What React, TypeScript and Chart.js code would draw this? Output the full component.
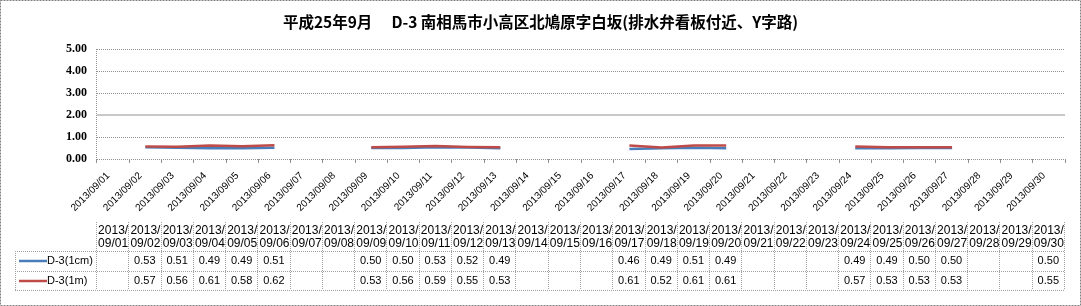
import React, { useEffect, useRef } from "react";
import { Chart, registerables } from "chart.js";

Chart.register(...registerables);

const TITLE = "平成25年9月　 D-3 南相馬市小高区北鳩原字白坂(排水弁看板付近、Y字路)";

const DATES: string[] = [
  "2013/09/01", "2013/09/02", "2013/09/03", "2013/09/04", "2013/09/05", "2013/09/06",
  "2013/09/07", "2013/09/08", "2013/09/09", "2013/09/10", "2013/09/11", "2013/09/12",
  "2013/09/13", "2013/09/14", "2013/09/15", "2013/09/16", "2013/09/17", "2013/09/18",
  "2013/09/19", "2013/09/20", "2013/09/21", "2013/09/22", "2013/09/23", "2013/09/24",
  "2013/09/25", "2013/09/26", "2013/09/27", "2013/09/28", "2013/09/29", "2013/09/30",
];

const SERIES_1CM_NAME = "D-3(1cm)";
const SERIES_1M_NAME = "D-3(1m)";

const D3_1CM: (number | null)[] = [
  null, 0.53, 0.51, 0.49, 0.49, 0.51, null, null, 0.50, 0.50, 0.53, 0.52, 0.49, null, null,
  null, 0.46, 0.49, 0.51, 0.49, null, null, null, 0.49, 0.49, 0.50, 0.50, null, null, 0.50,
];

const D3_1M: (number | null)[] = [
  null, 0.57, 0.56, 0.61, 0.58, 0.62, null, null, 0.53, 0.56, 0.59, 0.55, 0.53, null, null,
  null, 0.61, 0.52, 0.61, 0.61, null, null, null, 0.57, 0.53, 0.53, 0.53, null, null, 0.55,
];

const Y_MIN = 0;
const Y_MAX = 5;
const Y_STEP = 1;

const BLUE = "#4a7ebb";
const RED = "#be4b48";

const W = 1081;
const H = 306;

export default function App() {
  const canvasRef = useRef<HTMLCanvasElement | null>(null);

  useEffect(() => {
    const canvas = canvasRef.current;
    if (!canvas) return;

    const framePlugin = {
      id: "frame",
      beforeDraw(chart: any) {
        const ctx = chart.ctx;
        ctx.save();
        ctx.fillStyle = "#ffffff";
        ctx.fillRect(0, 0, W, H);
        ctx.restore();
      },
      beforeDatasetsDraw(chart: any) {
        const ctx = chart.ctx;
        const a = chart.chartArea;
        ctx.save();
        ctx.strokeStyle = "#909090";
        ctx.lineWidth = 1;
        ctx.setLineDash([1, 1]);
        ctx.beginPath();
        ctx.moveTo(Math.round(a.left) - 0.5, a.top);
        ctx.lineTo(Math.round(a.left) - 0.5, a.bottom);
        ctx.stroke();
        ctx.restore();
      },
      afterDraw(chart: any) {
        const ctx = chart.ctx;
        const xs = chart.scales.x;
        ctx.save();
        // outer border
        ctx.strokeStyle = "#808080";
        ctx.lineWidth = 1;
        ctx.setLineDash([2, 1]);
        ctx.strokeRect(0.5, 0.5, W - 1, H - 1);

        // title
        ctx.setLineDash([]);
        ctx.fillStyle = "#000";
        ctx.font = "bold 15.5px 'Noto Sans CJK JP'";
        ctx.textAlign = "center";
        ctx.textBaseline = "middle";
        ctx.fillText(TITLE, W / 2, 22);

        // data table
        const n = DATES.length;
        const colW = xs.width / n;
        const headTop = 222;
        const row1Top = 251;
        const row2Top = 271;
        const bottom = 290;
        const legLeft = 15;
        const left = xs.left;
        const right = xs.right;

        ctx.strokeStyle = "#a0a0a0";
        ctx.setLineDash([1, 1]);
        ctx.lineWidth = 1;
        ctx.beginPath();
        for (const y of [row1Top, row2Top, bottom]) {
          ctx.moveTo(legLeft, y + 0.5);
          ctx.lineTo(right, y + 0.5);
        }
        for (let i = 0; i <= n; i++) {
          const x = Math.round(left + i * colW) - 0.5;
          ctx.moveTo(x, headTop);
          ctx.lineTo(x, bottom);
        }
        ctx.moveTo(legLeft + 0.5, row1Top);
        ctx.lineTo(legLeft + 0.5, bottom);
        ctx.stroke();

        // header text
        ctx.setLineDash([]);
        ctx.fillStyle = "#000";
        ctx.font = "12px 'Liberation Sans'";
        ctx.textAlign = "center";
        ctx.textBaseline = "middle";
        for (let i = 0; i < n; i++) {
          const cx = xs.getPixelForValue(i);
          const parts = DATES[i].split("/");
          ctx.fillText(parts[0] + "/", cx, 231);
          ctx.fillText(parts[1] + "/" + parts[2], cx, 244);
        }

        // values
        ctx.font = "11px 'Liberation Sans'";
        ctx.textAlign = "right";
        const rows: { name: string; color: string; data: (number | null)[]; top: number }[] = [
          { name: SERIES_1CM_NAME, color: BLUE, data: D3_1CM, top: row1Top },
          { name: SERIES_1M_NAME, color: RED, data: D3_1M, top: row2Top },
        ];
        for (const r of rows) {
          const cy = r.top + 10;
          for (let i = 0; i < n; i++) {
            const v = r.data[i];
            if (v === null) continue;
            const rx = left + (i + 1) * colW - 6;
            ctx.fillText(v.toFixed(2), rx, cy);
          }
          ctx.strokeStyle = r.color;
          ctx.lineWidth = 2.5;
          ctx.beginPath();
          ctx.moveTo(19, cy);
          ctx.lineTo(47, cy);
          ctx.stroke();
          ctx.textAlign = "left";
          ctx.fillText(r.name, 47, cy);
          ctx.textAlign = "right";
        }
        ctx.restore();
      },
    };

    const chart = new Chart(canvas, {
      type: "line",
      data: {
        labels: DATES,
        datasets: [
          {
            label: SERIES_1CM_NAME,
            data: D3_1CM,
            borderColor: BLUE,
            backgroundColor: BLUE,
            borderWidth: 2.5,
            pointRadius: 0,
            tension: 0,
            spanGaps: false,
            order: 1,
          },
          {
            label: SERIES_1M_NAME,
            data: D3_1M,
            borderColor: RED,
            backgroundColor: RED,
            borderWidth: 2.5,
            pointRadius: 0,
            tension: 0,
            spanGaps: false,
            order: 0,
          },
        ],
      },
      options: {
        responsive: false,
        animation: false,
        layout: { padding: { top: 49, right: 16, left: 0, bottom: 0 } },
        plugins: {
          legend: { display: false },
          title: { display: false },
          tooltip: { enabled: false },
        },
        scales: {
          x: {
            type: "category",
            offset: true,
            grid: {
              offset: true,
              drawOnChartArea: false,
              drawTicks: true,
              tickLength: 4,
              color: "#909090",
            },
            border: { display: false },
            ticks: {
              autoSkip: false,
              minRotation: 45,
              maxRotation: 45,
              padding: 7,
              labelOffset: -5,
              color: "#000",
              font: { family: "'Liberation Sans'", size: 10 },
            },
            afterFit(scale: any) {
              scale.height = H - 159;
            },
          },
          y: {
            min: Y_MIN,
            max: Y_MAX,
            ticks: {
              stepSize: Y_STEP,
              padding: 10,
              color: "#000",
              font: { family: "'Liberation Serif'", size: 12, weight: "bold" },
              callback: (v: any) => Number(v).toFixed(2),
            },
            grid: {
              drawTicks: false,
              color: (c: any) => (c.tick && c.tick.value === 2 ? "#c8c8c8" : "#909090"),
              lineWidth: (c: any) => (c.tick && c.tick.value === 2 ? 2 : 1),
            },
            border: {
              display: false,
              dash: (c: any) => (c.tick && c.tick.value === 2 ? [] : [1, 1]),
            },
            afterFit(scale: any) {
              scale.width = 97;
            },
          },
        },
      },
      plugins: [framePlugin],
    } as any);

    return () => chart.destroy();
  }, []);

  return (
    <div style={{ position: "fixed", left: 0, top: 0 }}>
      <canvas ref={canvasRef} width={W} height={H} style={{ display: "block" }} />
    </div>
  );
}
